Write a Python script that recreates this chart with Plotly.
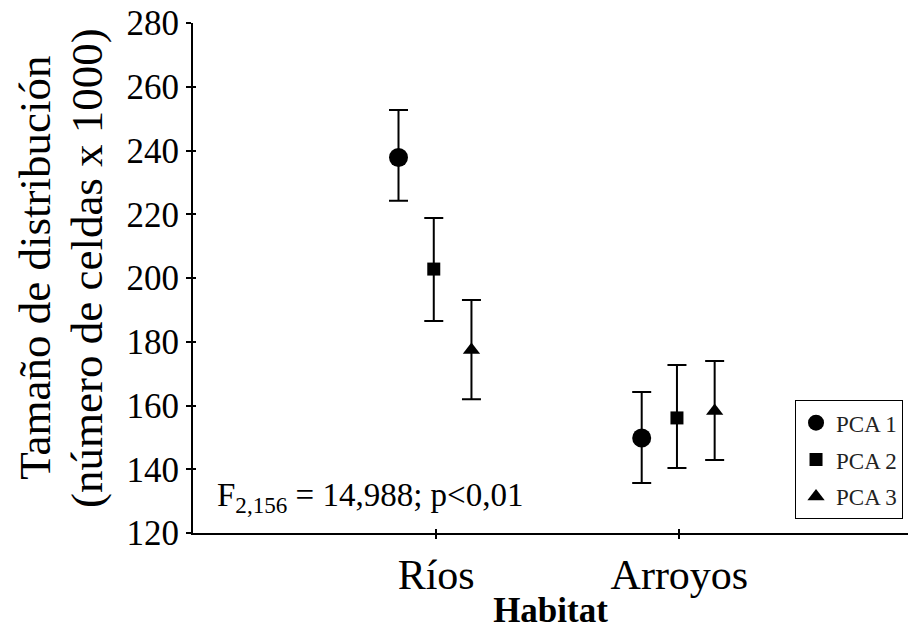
import plotly.graph_objects as go

# ---- data ----
habitats = ["Ríos", "Arroyos"]
series_names = ["PCA 1", "PCA 2", "PCA 3"]
pca1_mean = [237.8, 149.8]
pca1_upper = [252.7, 164.2]
pca1_lower = [224.2, 135.7]
pca2_mean = [202.8, 156.1]
pca2_upper = [218.8, 172.7]
pca2_lower = [186.5, 140.4]
pca3_mean = [177.4, 158.3]
pca3_upper = [193.1, 174.0]
pca3_lower = [162.0, 142.9]
y_ticks = [120, 140, 160, 180, 200, 220, 240, 260, 280]
y_title_lines = ["Tamaño de distribución", "(número de celdas x 1000)"]
x_title = "Habitat"
stat_text = "F<sub>2,156</sub> = 14,988; p&lt;0,01"

# ---- style ----
FONT = "Liberation Serif"
offsets = [-0.155, -0.01, 0.145]
symbols = ["circle", "square", "triangle-up"]
sizes = [19, 13, 15]
series = [
    (pca1_mean, pca1_upper, pca1_lower),
    (pca2_mean, pca2_upper, pca2_lower),
    (pca3_mean, pca3_upper, pca3_lower),
]

fig = go.Figure()
for k, (name, (m, up, lo)) in enumerate(zip(series_names, series)):
    xs = [i + offsets[k] for i in range(len(habitats))]
    fig.add_trace(go.Scatter(
        x=xs, y=m, mode="markers", name=name, legendgroup=name,
        marker=dict(symbol=symbols[k], size=sizes[k], color="black"),
        error_y=dict(type="data", symmetric=False,
                     array=[u - v for u, v in zip(up, m)],
                     arrayminus=[v - l for v, l in zip(m, lo)],
                     color="black", thickness=2, width=9.5),
    ))

# dummy trace for overlay axes (crossing ticks)
fig.add_trace(go.Scatter(x=[None], y=[None], xaxis="x2", yaxis="y2",
                         showlegend=False, hoverinfo="skip"))

fig.add_annotation(text=stat_text, xref="paper", yref="paper",
                   x=0.031, y=0.07, xanchor="left", yanchor="middle",
                   showarrow=False, font=dict(family=FONT, size=33, color="black"))

for line, xp in zip(y_title_lines, [-0.221, -0.148]):
    fig.add_annotation(text=line, xref="paper", yref="paper", x=xp, y=0.52,
                       xanchor="center", yanchor="middle", textangle=-90,
                       showarrow=False, font=dict(family=FONT, size=45, color="black"))

xr = [-1.0, 1.94]
yr = [120, 280]
fig.update_layout(
    width=910, height=631,
    margin=dict(l=193, r=2, t=23, b=98, autoexpand=False),
    plot_bgcolor="white", paper_bgcolor="white",
    font=dict(family=FONT, color="black"),
    showlegend=True,
    legend=dict(x=0.842, xanchor="left", y=0.027, yanchor="bottom",
                bordercolor="black", borderwidth=1, bgcolor="white",
                font=dict(family=FONT, size=23, color="#222"),
                tracegroupgap=4, itemwidth=30),
    xaxis=dict(range=xr, tickmode="array", tickvals=list(range(len(habitats))),
               ticktext=habitats, showline=True, linecolor="black", linewidth=2,
               ticks="outside", ticklen=4, tickwidth=2, tickcolor="black",
               showgrid=False, zeroline=False, automargin=False,
               tickfont=dict(family=FONT, size=42, color="black"),
               title=dict(text="<b>" + x_title + "</b>", standoff=0,
                          font=dict(family=FONT, size=35, color="black"))),
    yaxis=dict(range=yr, tickmode="array", tickvals=y_ticks,
               showline=True, linecolor="black", linewidth=2,
               ticks="outside", ticklen=5, tickwidth=2, tickcolor="black",
               showgrid=False, zeroline=False, automargin=False,
               tickfont=dict(family=FONT, size=35, color="black")),
    xaxis2=dict(range=xr, overlaying="x", tickmode="array",
                tickvals=list(range(len(habitats))), showticklabels=False,
                ticks="inside", ticklen=4, tickwidth=2, tickcolor="black",
                showline=False, showgrid=False, zeroline=False, automargin=False),
    yaxis2=dict(range=yr, overlaying="y", tickmode="array", tickvals=y_ticks,
                showticklabels=False, ticks="inside", ticklen=3, tickwidth=2,
                tickcolor="black", showline=False, showgrid=False, zeroline=False,
                automargin=False),
)

fig.write_html("out.html", config={"displayModeBar": False},
               post_script="document.body.style.margin='0';document.body.style.padding='0';")
